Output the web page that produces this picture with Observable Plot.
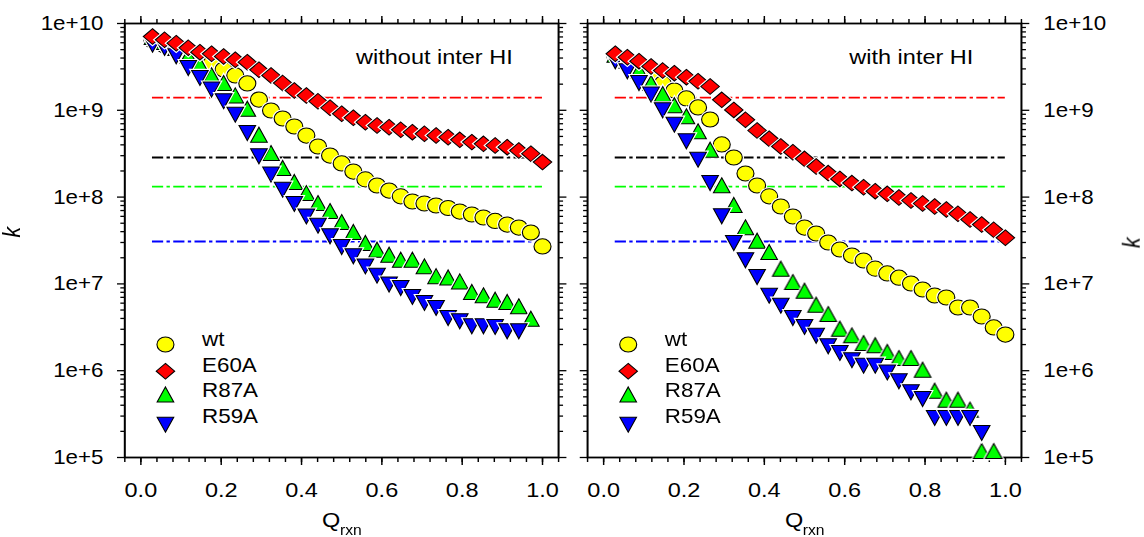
<!DOCTYPE html>
<html><head><meta charset="utf-8">
<script src="https://cdn.jsdelivr.net/npm/d3@7"></script>
<script src="https://cdn.jsdelivr.net/npm/@observablehq/plot@0.6"></script>
<style>
html,body{margin:0;padding:0;background:#fff;overflow:hidden;}
#wrap{position:relative;width:1022px;height:537px;transform:scaleX(1.1194);transform-origin:0 0;}
.panel{position:absolute;top:0;width:511px;height:537px;}
.panel svg{max-width:none !important;}
</style></head><body>
<div id="wrap"><div id="p1" class="panel" style="left:0"></div><div id="p2" class="panel" style="left:511px"></div></div>
<script>
// Reaction coordinate values (x)
const Q = [0.029,0.059,0.088,0.118,0.147,0.176,0.206,0.235,0.265,0.294,0.324,0.353,0.382,0.412,0.441,0.471,0.500,0.529,0.559,0.588,0.618,0.647,0.676,0.706,0.735,0.765,0.794,0.824,0.853,0.882,0.912,0.941,0.971,1.000];
const seriesNames = ["wt","E60A","R87A","R59A"];
const seriesColors = ["#ffff00","#ff0000","#00ff00","#0000ff"];

// Left panel: without inter HI
const noHI_wt = [6.37e9,5.58e9,4.89e9,4.28e9,3.85e9,3.46e9,2.95e9,2.52e9,2.04e9,1.33e9,9.95e8,8.04e8,6.51e8,5.12e8,3.83e8,3.01e8,2.44e8,1.97e8,1.60e8,1.36e8,1.19e8,1.02e8,8.90e7,8.44e7,8.00e7,7.49e7,6.82e7,6.30e7,5.82e7,5.31e7,4.83e7,4.46e7,3.91e7,2.70e7];
const noHI_E60A = [7.08e9,6.49e9,5.93e9,5.25e9,4.67e9,4.48e9,4.17e9,3.82e9,3.58e9,2.93e9,2.52e9,2.06e9,1.69e9,1.48e9,1.27e9,1.07e9,9.12e8,8.20e8,7.29e8,6.68e8,6.38e8,5.96e8,5.60e8,5.36e8,5.13e8,4.90e8,4.57e8,4.30e8,4.11e8,3.93e8,3.76e8,3.44e8,3.16e8,2.53e8];
const noHI_R87A = [6.54e9,5.73e9,4.89e9,3.95e9,3.14e9,2.37e9,1.93e9,1.39e9,9.77e8,4.90e8,3.01e8,2.03e8,1.40e8,1.04e8,8.00e7,6.47e7,4.83e7,3.71e7,2.77e7,2.32e7,2.03e7,1.78e7,1.78e7,1.49e7,1.15e7,1.11e7,1.00e7,7.55e6,6.92e6,6.15e6,5.79e6,5.16e6,3.72e6];
const noHI_R59A = [6.09e9,5.58e9,4.48e9,3.28e9,2.52e9,1.85e9,1.36e9,9.51e8,5.85e8,3.15e8,1.94e8,1.30e8,8.90e7,6.39e7,5.00e7,3.78e7,2.84e7,2.22e7,1.70e7,1.33e7,1.05e7,9.58e6,7.55e6,6.44e6,5.64e6,4.32e6,3.96e6,3.47e6,3.47e6,3.41e6,3.04e6,3.04e6];

// Right panel: with inter HI
const HI_wt = [4.28e9,3.75e9,3.11e9,2.45e9,2.04e9,1.69e9,1.37e9,1.08e9,7.83e8,4.04e8,2.86e8,1.87e8,1.36e8,1.02e8,7.79e7,5.98e7,4.46e7,3.81e7,3.00e7,2.49e7,2.12e7,1.86e7,1.50e7,1.32e7,1.18e7,1.01e7,8.62e6,7.35e6,6.97e6,5.35e6,5.35e6,4.21e6,3.15e6,2.61e6];
const HI_E60A = [4.48e9,4.09e9,3.68e9,3.20e9,2.87e9,2.68e9,2.41e9,2.16e9,1.88e9,1.32e9,1.01e9,7.77e8,5.85e8,4.70e8,3.83e8,3.29e8,2.76e8,2.25e8,1.89e8,1.62e8,1.45e8,1.30e8,1.17e8,1.09e8,9.89e7,9.14e7,8.44e7,7.79e7,7.20e7,6.42e7,5.52e7,4.83e7,4.20e7,3.40e7];
const HI_R87A = [4.09e9,3.49e9,2.68e9,1.93e9,1.44e9,1.07e9,7.98e8,5.36e8,3.29e8,1.28e8,7.59e7,4.20e7,2.94e7,2.18e7,1.40e7,9.84e6,7.81e6,5.39e6,4.21e6,2.85e6,2.39e6,1.95e6,1.84e6,1.54e6,1.31e6,1.31e6,9.61e5,5.51e5,4.34e5,4.34e5,3.33e5,1.11e5,1.11e5];
const HI_R59A = [3.92e9,3.01e9,2.20e9,1.62e9,1.07e9,7.29e8,4.70e8,2.88e8,1.55e8,6.42e7,3.16e7,2.00e7,1.28e7,7.81e6,5.99e6,4.32e6,3.41e6,2.70e6,2.04e6,1.71e6,1.41e6,1.22e6,1.22e6,1.02e6,8.07e5,6.03e5,5.04e5,3.05e5,3.05e5,3.05e5,3.05e5,2.05e5];

// Horizontal dash-dot reference levels
const refK = [1.40e9, 2.86e8, 1.32e8, 3.08e7];
const refColors = ["#ff0000","#000000","#00ff00","#0000ff"];

const panelTitles = ["without inter HI", "with inter HI"];
const xTicks = [0, 0.2, 0.4, 0.6, 0.8, 1.0];
const xTickLabels = ["0.0","0.2","0.4","0.6","0.8","1.0"];
const yTicks = [1e5, 1e6, 1e7, 1e8, 1e9, 1e10];
const yTickLabels = ["1e+5","1e+6","1e+7","1e+8","1e+9","1e+10"];
const yLabel = "k";
const xLabel = "Q", xLabelSub = "rxn";

const xMinor = d3.range(-1, 27).map(i => +(i * 0.04).toFixed(2));
const yMinor = [];
for (let e = 5; e < 10; e++) for (let m = 2; m <= 9; m++) yMinor.push(m * Math.pow(10, e));

const symbols = {
  wt: "circle",
  E60A: {draw(c, s) { const r = Math.sqrt(s / Math.PI); const w = r * 1.1, h = r * 1.04; c.moveTo(0, -h); c.lineTo(w, 0); c.lineTo(0, h); c.lineTo(-w, 0); c.closePath(); }},
  R87A: {draw(c, s) { const r = Math.sqrt(s / Math.PI); const w = r * 0.99, h = r * 2; c.moveTo(0, -2 * h / 3); c.lineTo(w, h / 3); c.lineTo(-w, h / 3); c.closePath(); }},
  R59A: {draw(c, s) { const r = Math.sqrt(s / Math.PI); const w = r * 0.99, h = r * 2; c.moveTo(0, 2 * h / 3); c.lineTo(w, -h / 3); c.lineTo(-w, -h / 3); c.closePath(); }}
};
const radius = {wt: 7.6, E60A: 7.5, R87A: 7.5, R59A: 7.5};

function panel(el, isLeft, data, title) {
  const marks = [];
  marks.push(Plot.frame({stroke: "black", strokeWidth: 1.8}));
  marks.push(Plot.ruleY(refK.map((k, i) => ({k, c: refColors[i]})), {
    y: "k", x1: () => Q[0], x2: () => Q[Q.length - 1], stroke: "c", strokeWidth: 1.8, strokeDasharray: "10,3,3,3"
  }));
  // axes
  const ax = {label: null, strokeWidth: 1.3};
  marks.push(Plot.axisX({...ax, anchor: "bottom", ticks: xMinor, tickSize: 5, tickFormat: () => ""}));
  marks.push(Plot.axisX({...ax, anchor: "bottom", ticks: xTicks, tickSize: 8, tickPadding: 17, fontSize: 21, tickFormat: d => xTickLabels[xTicks.indexOf(d)]}));
  marks.push(Plot.axisX({...ax, anchor: "top", ticks: xMinor, tickSize: 5, tickFormat: () => ""}));
  marks.push(Plot.axisX({...ax, anchor: "top", ticks: xTicks, tickSize: 8, tickFormat: () => ""}));
  marks.push(Plot.axisY({...ax, anchor: "left", ticks: yMinor, tickSize: 3.5, tickFormat: () => ""}));
  marks.push(Plot.axisY({...ax, anchor: "right", ticks: yMinor, tickSize: 3.5, tickFormat: () => ""}));
  const yfmt = d => yTickLabels[yTicks.indexOf(d)];
  marks.push(Plot.axisY({...ax, anchor: "left", ticks: yTicks, tickSize: 6.5, tickPadding: 12.5, tickFormat: isLeft ? yfmt : () => ""}));
  marks.push(Plot.axisY({...ax, anchor: "right", ticks: yTicks, tickSize: 6.5, tickPadding: 13, tickFormat: isLeft ? () => "" : yfmt}));
  // series (drawn with a thin white halo, in sequence)
  for (const name of ["wt", "R87A", "R59A", "E60A"]) {
    const col = seriesColors[seriesNames.indexOf(name)];
    const pts = [];
    data[name].forEach((k, i) => { pts.push({q: Q[i], k, halo: true}); pts.push({q: Q[i], k, halo: false}); });
    marks.push(Plot.dot(pts, {
      x: "q", y: "k", symbol: symbols[name], r: radius[name],
      fill: d => d.halo ? "white" : col, stroke: d => d.halo ? "white" : "black",
      strokeWidth: d => d.halo ? 3.2 : 1
    }));
  }
  // legend
  const symDy = [-113, -86.3, -60.5, -35.3];
  const txtDy = [-112, -85.5, -60.3, -34.5];
  seriesNames.forEach((name, i) => {
    marks.push(Plot.dot([name], {frameAnchor: "bottom-left", dx: 36.3, dy: symDy[i], symbol: symbols[name], r: radius[name], fill: seriesColors[i], stroke: "black", strokeWidth: 1}));
    marks.push(Plot.text([name], {frameAnchor: "bottom-left", text: d => d, textAnchor: "start", dx: 69, dy: txtDy[i], fontSize: 20}));
  });
  // panel title
  marks.push(Plot.text([title], {frameAnchor: "top-right", text: d => d, textAnchor: "end", lineAnchor: "bottom", dx: isLeft ? -41 : -43, dy: 40, fontSize: 21}));
  // axis labels
  marks.push(Plot.text([yLabel], {frameAnchor: isLeft ? "left" : "right", text: d => d, rotate: -90, dx: isLeft ? -100 : 99, dy: -3, fontStyle: "italic", fontSize: 21}));
  marks.push(Plot.text([xLabel], {frameAnchor: "bottom", text: d => d, textAnchor: "start", lineAnchor: "bottom", dx: -17.5, dy: 69, fontSize: 21}));
  marks.push(Plot.text([xLabelSub], {frameAnchor: "bottom", text: d => d, textAnchor: "start", lineAnchor: "bottom", dx: -1.5, dy: 77, fontSize: 14}));

  const svg = Plot.plot({
    width: 511, height: 537,
    marginLeft: isLeft ? 111 : 13.4, marginRight: isLeft ? 12.5 : 110,
    marginTop: 23, marginBottom: 80,
    x: {domain: [-0.04, 1.04]},
    y: {type: "log", domain: [1e5, 1e10]},
    color: {type: "identity"},
    style: {fontFamily: "'Liberation Sans', Arial, Helvetica, sans-serif", fontSize: "20px", color: "black", background: "white", overflow: "visible"},
    marks
  });
  el.appendChild(svg);
}

panel(document.getElementById("p1"), true, {wt: noHI_wt, E60A: noHI_E60A, R87A: noHI_R87A, R59A: noHI_R59A}, panelTitles[0]);
panel(document.getElementById("p2"), false, {wt: HI_wt, E60A: HI_E60A, R87A: HI_R87A, R59A: HI_R59A}, panelTitles[1]);
</script>
</body></html>
